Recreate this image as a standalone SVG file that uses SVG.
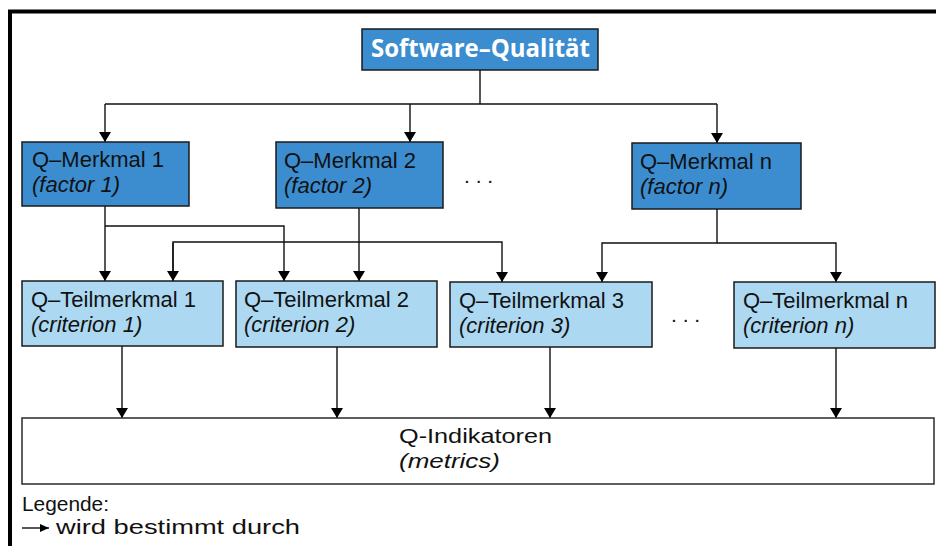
<svg xmlns="http://www.w3.org/2000/svg" width="936" height="546" viewBox="0 0 936 546">
<defs>
<marker id="arr" markerWidth="10" markerHeight="12" refX="10" refY="6" orient="auto" markerUnits="userSpaceOnUse">
<path d="M0,0 L10,6 L0,12 Z" fill="#000"/>
</marker>
<marker id="arrs" markerWidth="9" markerHeight="8" refX="9" refY="4" orient="auto" markerUnits="userSpaceOnUse">
<path d="M0,0 L9,4 L0,8 Z" fill="#000"/>
</marker>
</defs>
<style>
.dark{fill:#3b8dd0;stroke:#1a1a1a;stroke-width:1.5}
.light{fill:#acd9f1;stroke:#1a1a1a;stroke-width:1.5}
.white{fill:#fff;stroke:#2a2a2a;stroke-width:1.5}
.t{font-family:"Liberation Sans",Arial,sans-serif;font-size:22px;fill:#111}
.i{font-style:italic}
.c{font-family:"Liberation Sans",Arial,sans-serif;font-size:20px;fill:#111}
.h{font-family:"Open Sans","Liberation Sans",sans-serif;font-size:25px;font-weight:bold;fill:#fff}
.ln{fill:none;stroke:#111;stroke-width:1.4}
.dots{font-family:"Liberation Sans",Arial,sans-serif;font-size:21px;fill:#111}
</style>
<rect width="936" height="546" fill="#fff"/>
<path d="M10,546 V11.5 H936" fill="none" stroke="#000" stroke-width="4"/>

<g id="connectors">
<path class="ln" d="M480,70 V104 H105 M480,104 H717"/>
<path class="ln" d="M105,104 V142" marker-end="url(#arr)"/>
<path class="ln" d="M410,104 V142" marker-end="url(#arr)"/>
<path class="ln" d="M717,104 V143" marker-end="url(#arr)"/>
<path class="ln" d="M105,206 V281" marker-end="url(#arr)"/>
<path class="ln" d="M105,226 H284 V281" marker-end="url(#arr)"/>
<path class="ln" d="M359,208 V281" marker-end="url(#arr)"/>
<path class="ln" d="M173,281 V242 H502 V282" marker-end="url(#arr)"/>
<path class="ln" d="M173,243 V281" marker-end="url(#arr)"/>
<path class="ln" d="M717,209 V243 H602 V282" marker-end="url(#arr)"/>
<path class="ln" d="M717,243 H836 V282" marker-end="url(#arr)"/>
<path class="ln" d="M122,346 V418" marker-end="url(#arr)"/>
<path class="ln" d="M337,347 V418" marker-end="url(#arr)"/>
<path class="ln" d="M550,347 V418" marker-end="url(#arr)"/>
<path class="ln" d="M836,348 V418" marker-end="url(#arr)"/>
</g>

<g id="software-qualitaet">
<rect class="dark" x="362" y="29" width="236" height="41"/>
<text class="h" x="371" y="57" textLength="219" lengthAdjust="spacingAndGlyphs">Software–Qualität</text>
</g>

<g id="merkmal-1">
<rect class="dark" x="22" y="142" width="167" height="64"/>
<text class="t"><tspan x="32" y="167">Q–Merkmal 1</tspan><tspan class="i" x="32" y="192">(factor 1)</tspan></text>
</g>
<g id="merkmal-2">
<rect class="dark" x="276" y="142" width="167" height="66"/>
<text class="t"><tspan x="284" y="168">Q–Merkmal 2</tspan><tspan class="i" x="284" y="193">(factor 2)</tspan></text>
</g>
<text class="dots" x="464" y="183">. . .</text>
<g id="merkmal-n">
<rect class="dark" x="632" y="143" width="169" height="66"/>
<text class="t"><tspan x="640" y="169">Q–Merkmal n</tspan><tspan class="i" x="640" y="194">(factor n)</tspan></text>
</g>

<g id="teilmerkmal-1">
<rect class="light" x="22" y="281" width="201" height="65"/>
<text class="t"><tspan x="31" y="307">Q–Teilmerkmal 1</tspan><tspan class="i" x="31" y="332">(criterion 1)</tspan></text>
</g>
<g id="teilmerkmal-2">
<rect class="light" x="236" y="281" width="201" height="66"/>
<text class="t"><tspan x="244" y="307">Q–Teilmerkmal 2</tspan><tspan class="i" x="244" y="332">(criterion 2)</tspan></text>
</g>
<g id="teilmerkmal-3">
<rect class="light" x="450" y="282" width="202" height="65"/>
<text class="t"><tspan x="459" y="308">Q–Teilmerkmal 3</tspan><tspan class="i" x="459" y="333">(criterion 3)</tspan></text>
</g>
<text class="dots" x="671" y="322">. . .</text>
<g id="teilmerkmal-n">
<rect class="light" x="734" y="282" width="201" height="66"/>
<text class="t"><tspan x="743" y="308">Q–Teilmerkmal n</tspan><tspan class="i" x="743" y="333">(criterion n)</tspan></text>
</g>

<g id="indikatoren">
<rect class="white" x="22" y="418" width="912" height="66"/>
<text class="c"><tspan x="399" y="443" textLength="153" lengthAdjust="spacingAndGlyphs">Q-Indikatoren</tspan><tspan class="i" x="399" y="468" textLength="101" lengthAdjust="spacingAndGlyphs">(metrics)</tspan></text>
</g>

<g id="legende">
<line class="ln" x1="22" y1="528" x2="49" y2="528" marker-end="url(#arrs)"/>
<text class="c"><tspan x="22" y="511" textLength="87" lengthAdjust="spacingAndGlyphs">Legende:</tspan><tspan x="56" y="534" textLength="244" lengthAdjust="spacingAndGlyphs">wird bestimmt durch</tspan></text>
</g>
</svg>
